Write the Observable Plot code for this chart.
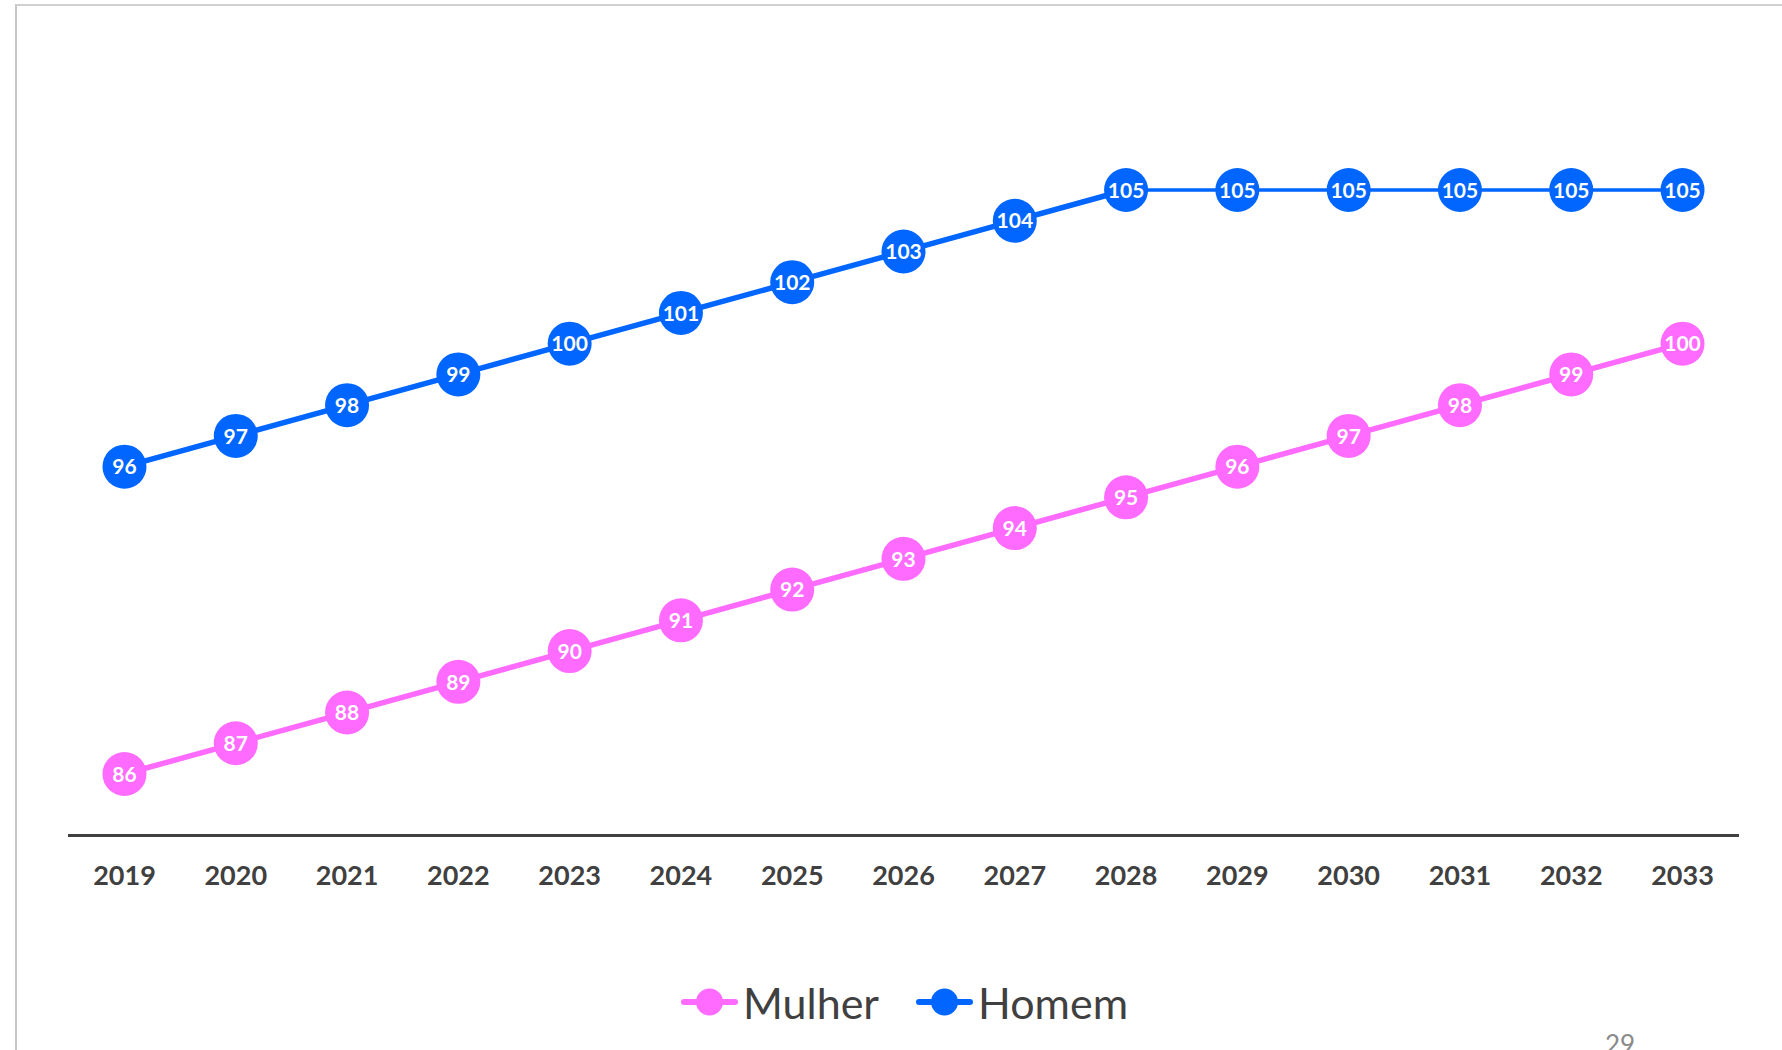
<!DOCTYPE html>
<html><head><meta charset="utf-8">
<script src="https://cdn.jsdelivr.net/npm/d3@7"></script>
<script src="https://cdn.jsdelivr.net/npm/@observablehq/plot@0.6"></script>
<style>
html,body{margin:0;padding:0;background:#fff;width:1782px;height:1050px;overflow:hidden;font-family:Lato,"Open Sans",sans-serif}
#border{position:absolute;left:15px;top:4px;width:1800px;height:1100px;border-left:2px solid #c6c6c6;border-top:2px solid #d0d0d0;box-sizing:border-box}
#chart{position:absolute;left:0;top:0}
#legend{position:absolute;left:681px;top:979px;height:46px;display:flex;align-items:center;color:#404040;font-size:43px;line-height:1}
#legend .item{display:flex;align-items:center}
#legend svg{display:block}
#page{position:absolute;left:1605px;top:1031px;font-size:26px;line-height:1;color:#8a8a8a}
</style></head>
<body>
<div id="border"></div>
<div id="chart"></div>
<div id="legend"></div>
<div id="page">29</div>
<script>
const years = [2019,2020,2021,2022,2023,2024,2025,2026,2027,2028,2029,2030,2031,2032,2033];
const mulher = [86,87,88,89,90,91,92,93,94,95,96,97,98,99,100];
const homem  = [96,97,98,99,100,101,102,103,104,105,105,105,105,105,105];
const seriesNames = ["Mulher","Homem"];
const seriesColors = ["#ff6bff","#0066ff"];

const seriesValues = [mulher, homem];
const points = [];
const segments = [];
seriesNames.forEach((name, s) => {
  const vals = seriesValues[s];
  years.forEach((yr, i) => {
    points.push({serie: name, year: yr, v: vals[i]});
    if (i < years.length - 1) {
      segments.push({serie: name, x1: yr, y1: vals[i], x2: years[i+1], y2: vals[i+1], flat: vals[i] === vals[i+1]});
    }
  });
});

const chart = Plot.plot({
  width: 1782,
  height: 920,
  marginLeft: 69,
  marginRight: 45,
  marginTop: 128,
  marginBottom: 85,
  style: {fontFamily: "Lato, 'Open Sans', sans-serif", background: "transparent"},
  x: {type: "point", domain: years, padding: 0.494, round: false, label: null},
  y: {domain: [84, 107], axis: null},
  color: {domain: seriesNames, range: seriesColors},
  marks: [
    Plot.frame({anchor: "bottom", stroke: "#404040", strokeWidth: 3}),
    Plot.axisX({tickSize: 0, tickPadding: 30, fontSize: 27, fontWeight: 700, fill: "#404040", label: null, tickFormat: d => String(d)}),
    Plot.link(segments, {x1: "x1", y1: "y1", x2: "x2", y2: "y2", stroke: "serie", strokeWidth: d => d.flat ? 3.5 : 5.5, strokeLinecap: "round"}),
    Plot.dot(points, {x: "year", y: "v", r: 22, fill: "serie", stroke: "none"}),
    Plot.text(points, {x: "year", y: "v", text: d => String(d.v), fill: "white", fontSize: 21, fontWeight: 700, dy: 1})
  ]
});
document.getElementById("chart").appendChild(chart);

const legend = document.getElementById("legend");
seriesNames.forEach((name, i) => {
  const item = document.createElement("div");
  item.className = "item";
  if (i > 0) item.style.marginLeft = "37px";
  const sw = d3.create("svg").attr("width", 57).attr("height", 30);
  sw.append("line").attr("x1", 3).attr("x2", 54).attr("y1", 15).attr("y2", 15)
    .attr("stroke", seriesColors[i]).attr("stroke-width", 6).attr("stroke-linecap", "round");
  sw.append("circle").attr("cx", 28.5).attr("cy", 15).attr("r", 13.5).attr("fill", seriesColors[i]);
  item.appendChild(sw.node());
  const t = document.createElement("span");
  t.textContent = name;
  t.style.marginLeft = "5px";
  item.appendChild(t);
  legend.appendChild(item);
});
</script>
</body></html>
